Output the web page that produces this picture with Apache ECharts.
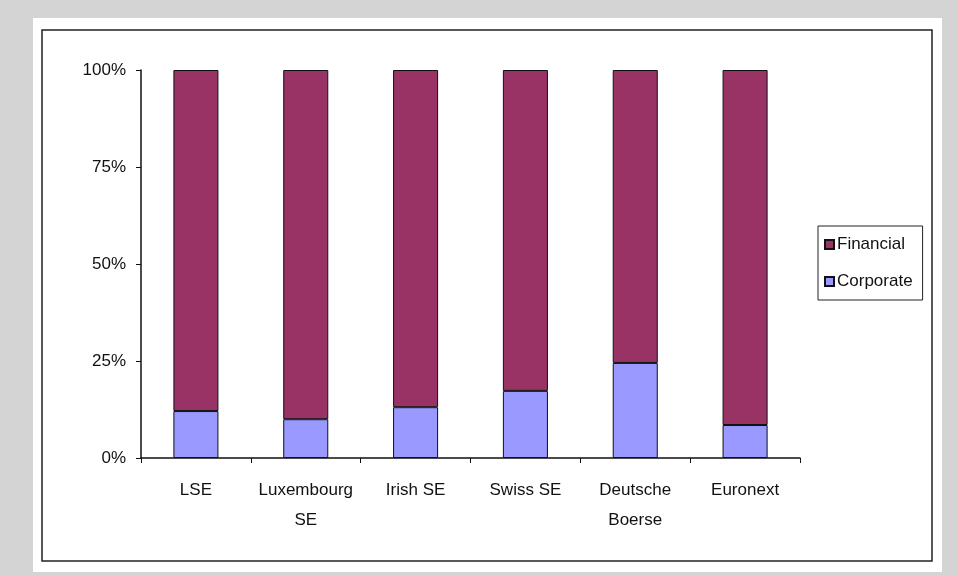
<!DOCTYPE html>
<html>
<head>
    <meta charset="utf-8">
    <title>Financial vs Corporate</title>
    <script src="https://cdn.jsdelivr.net/npm/echarts@6/dist/echarts.min.js"></script>
    <style>
        body { margin: 0; background: #d4d4d4; }
    </style>
</head>
<body>
<div id="chart" style="width: 957px; height: 575px;"></div>
<script>
    // exchanges on the x axis
    var exchanges = ['LSE', 'Luxembourg\nSE', 'Irish SE', 'Swiss SE', 'Deutsche\nBoerse', 'Euronext'];
    // share of corporate issues (%)
    var corporate = [12.1, 10.0, 13.1, 17.3, 24.5, 8.5];
    // financial is the rest of each 100% bar
    var financial = [87.9, 90.0, 86.9, 82.7, 75.5, 91.5];
    var yTicks = [0, 25, 50, 75, 100];

    var chart = echarts.init(document.getElementById('chart'));

    var font = 'Liberation Sans, Arial, sans-serif';

    var option = {
        backgroundColor: '#d4d4d4',
        animation: false,
        graphic: [
            {
                type: 'rect',
                shape: { x: 33, y: 18, width: 909, height: 554 },
                style: { fill: '#ffffff' },
                z: -10
            },
            {
                type: 'rect',
                shape: { x: 42, y: 30, width: 890, height: 531 },
                style: { fill: 'none', stroke: '#222', lineWidth: 1.5 },
                z: -9
            }
        ],
        grid: {
            left: 141,
            right: 157,
            top: 70,
            bottom: 117
        },
        legend: {
            orient: 'vertical',
            left: 818,
            top: 226,
            data: ['Financial', 'Corporate'],
            icon: 'rect',
            itemWidth: 9,
            itemHeight: 9,
            itemGap: 20,
            padding: [10, 10, 10, 6],
            borderColor: '#222',
            borderWidth: 1,
            textStyle: { fontFamily: font, fontSize: 17, color: '#111', padding: [0, 0, 0, -2] }
        },
        xAxis: {
            type: 'category',
            data: exchanges,
            axisLine: { lineStyle: { color: '#111', width: 1.5 } },
            axisTick: { show: true, length: 5, interval: 0, lineStyle: { color: '#111' } },
            axisLabel: { interval: 0, fontFamily: font, fontSize: 17, color: '#111', margin: 17, lineHeight: 30 }
        },
        yAxis: {
            type: 'value',
            min: yTicks[0],
            max: yTicks[yTicks.length - 1],
            interval: 25,
            axisLine: { show: true, lineStyle: { color: '#111', width: 1.5 } },
            axisTick: { show: true, length: 5, lineStyle: { color: '#111' } },
            splitLine: { show: false },
            axisLabel: { fontFamily: font, fontSize: 17, color: '#111', margin: 15, formatter: '{value}%' }
        },
        series: [
            {
                name: 'Corporate',
                type: 'bar',
                stack: 'total',
                barWidth: '41%',
                data: corporate,
                itemStyle: { color: '#9999ff', borderColor: '#111', borderWidth: 1 }
            },
            {
                name: 'Financial',
                type: 'bar',
                stack: 'total',
                barWidth: '41%',
                data: financial,
                itemStyle: { color: '#993366', borderColor: '#111', borderWidth: 1 }
            }
        ]
    };

    chart.setOption(option);
</script>
</body>
</html>
